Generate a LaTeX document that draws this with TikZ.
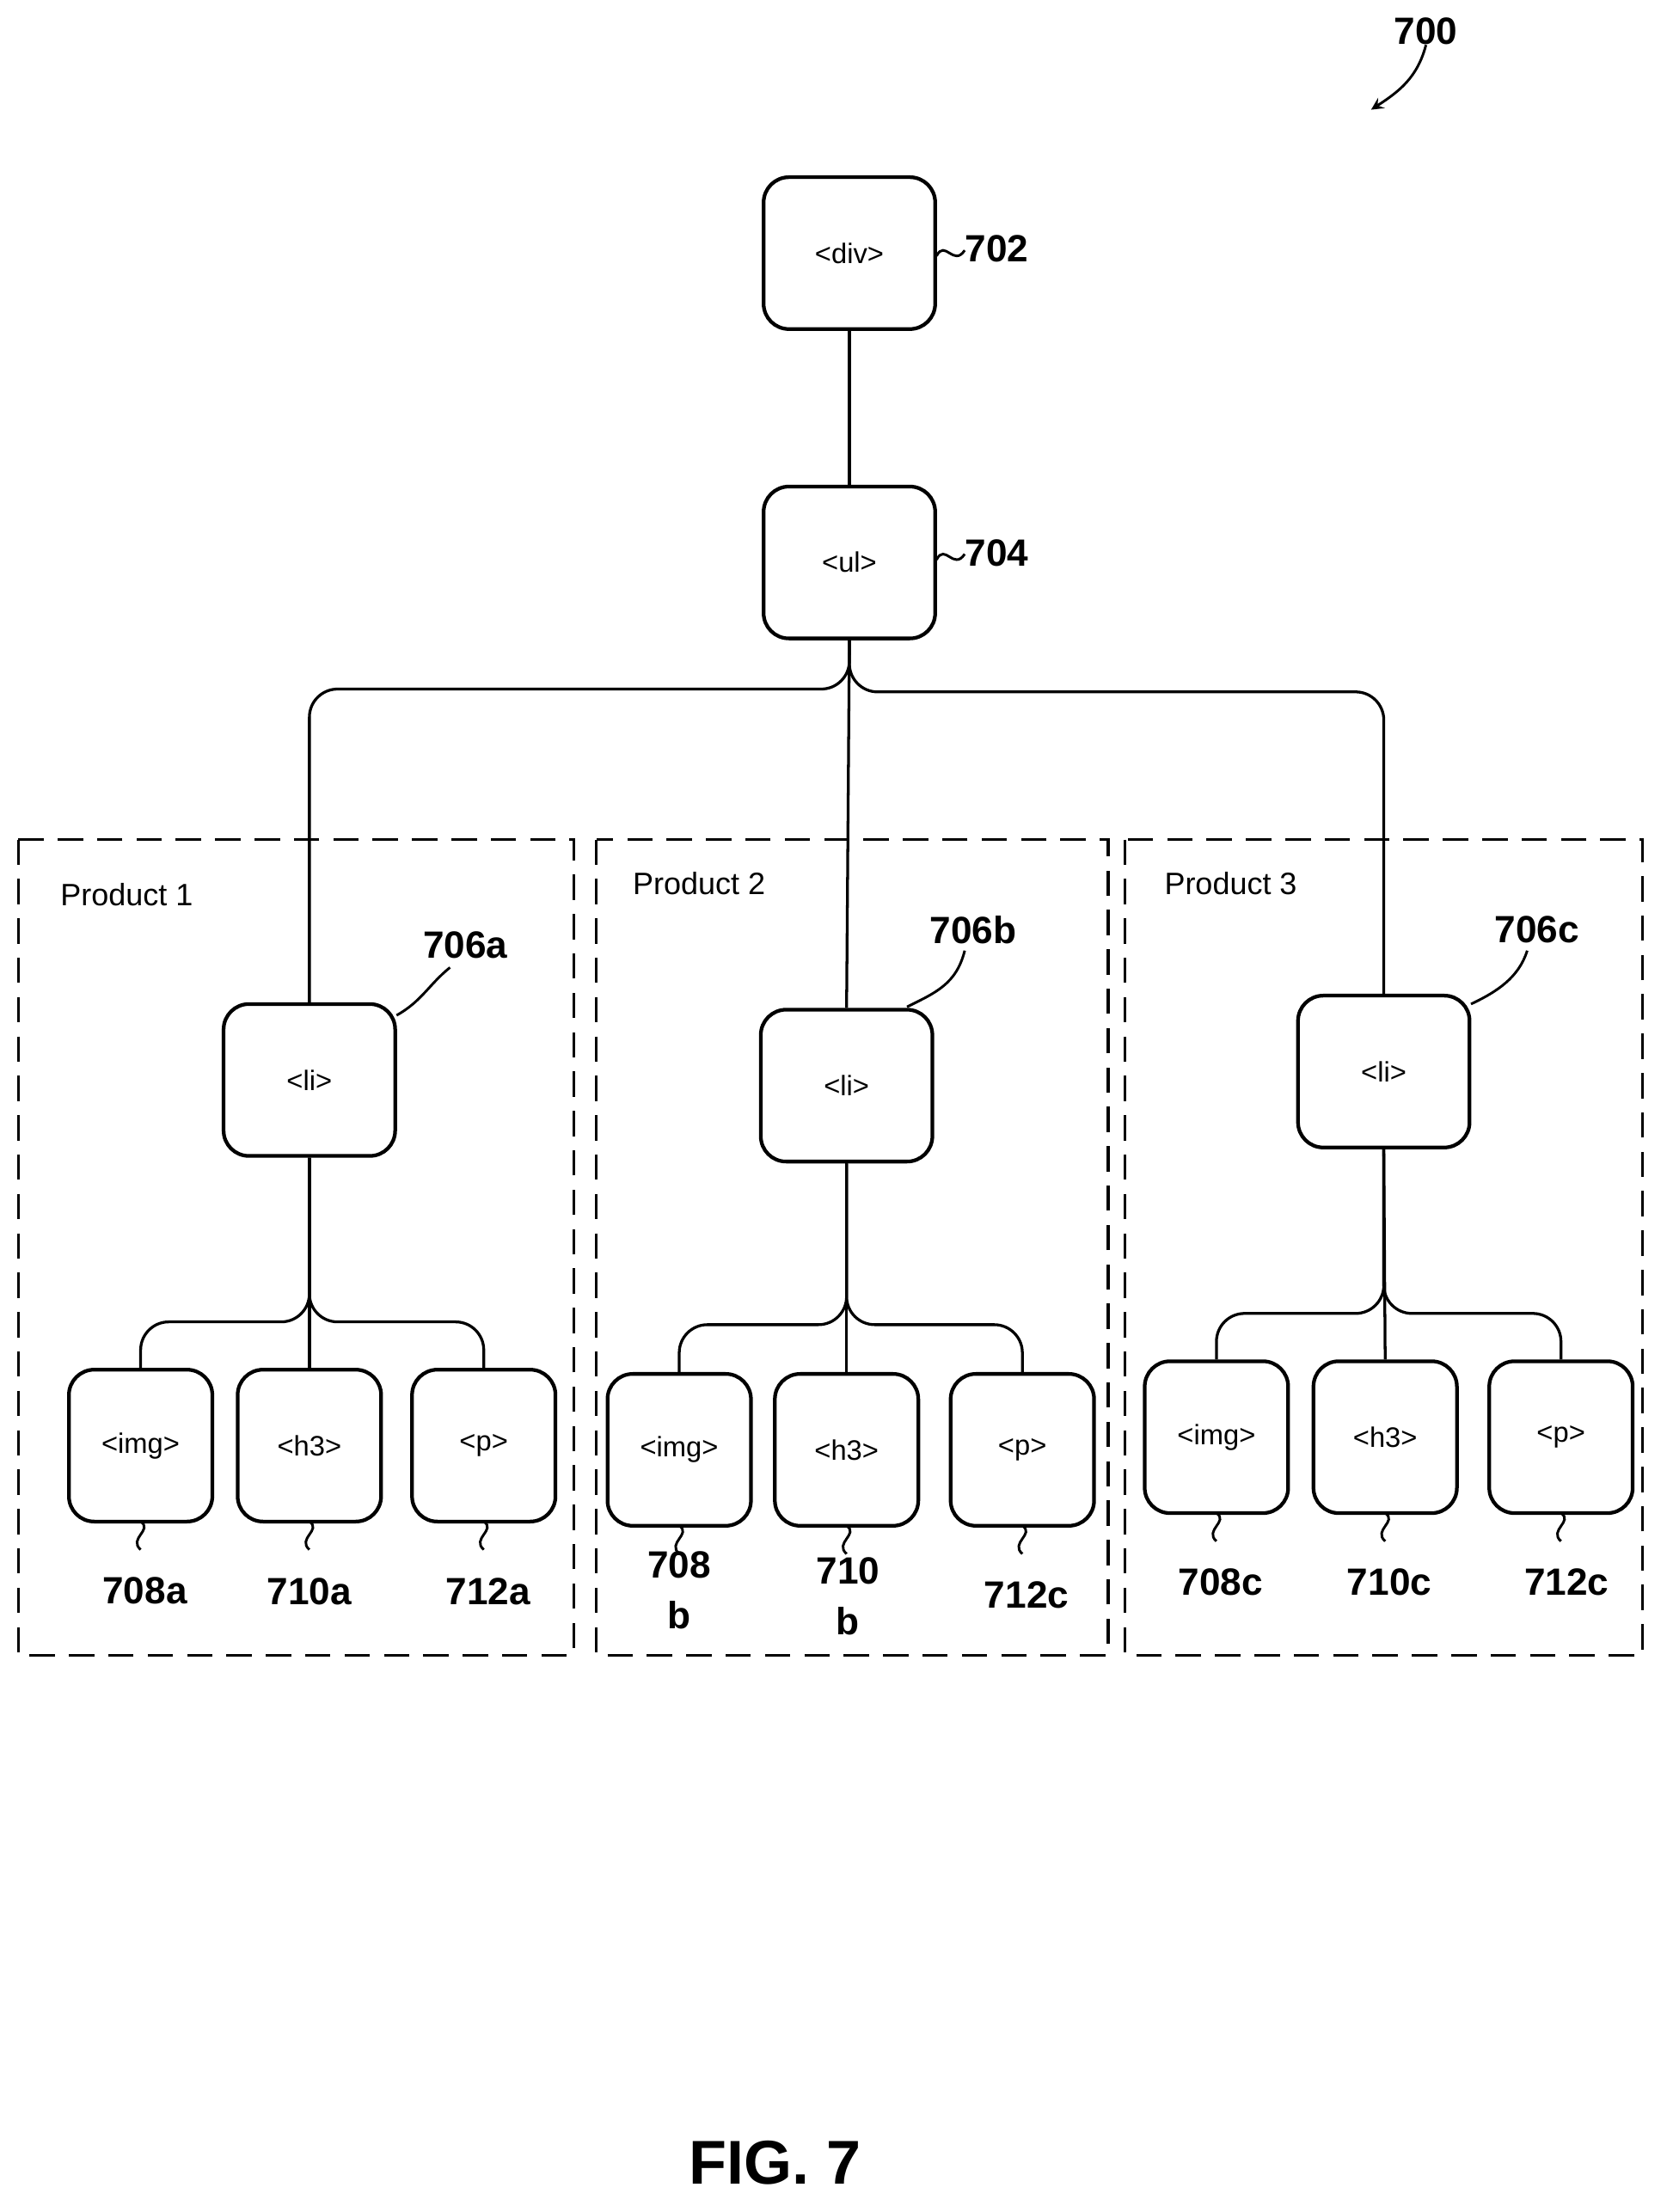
\documentclass[tikz,border=0pt]{standalone}
\usepackage{fontspec}
\setmainfont{Liberation Sans}
\begin{document}
\begin{tikzpicture}[x=0.5pt,y=-0.5pt,
 box/.style={draw,line width=1.3pt,rounded corners=9pt,minimum width=61pt,minimum height=54pt,font=\fontsize{10}{12}\selectfont},
 kid/.style={box,minimum width=51pt},
 grp/.style={draw,line width=1pt,dash pattern=on 9pt off 5pt},
 lab/.style={font=\fontsize{13.5}{14}\selectfont\bfseries,inner sep=0pt},
 ln/.style={line width=1pt},
 sq/.style={line width=0.9pt}]
\useasboundingbox (0,0) rectangle (1185,1573);
% groups
\draw[grp] (13,597) rectangle (408,1177);
\draw[grp] (424,597) rectangle (788,1177);
\draw[grp] (800,597) rectangle (1168,1177);
\node[anchor=west,font=\fontsize{11}{13}\selectfont] (p1) at (36,636) {Product 1};
\node[anchor=west,font=\fontsize{11}{13}\selectfont] (p2) at (443,628) {Product 2};
\node[anchor=west,font=\fontsize{11}{13}\selectfont] (p3) at (821,628) {Product 3};
% nodes
\node[box] (div) at (604,180) {<div>};
\node[box] (ul) at (604,400) {<ul>};
\node[box] (lia) at (220,768) {<li>};
\node[box] (lib) at (602,772) {<li>};
\node[box] (lic) at (984,762) {<li>};
\node[kid] (ia) at (100,1028) {<img>};
\node[kid] (ha) at (220,1028) {<h3>};
\node[kid] (pa) at (344,1028) {<p>};
\node[kid] (ib) at (483,1031) {<img>};
\node[kid] (hb) at (602,1031) {<h3>};
\node[kid] (pb) at (727,1031) {<p>};
\node[kid] (ic) at (865,1022) {<img>};
\node[kid] (hc) at (985,1022) {<h3>};
\node[kid] (pc) at (1110,1022) {<p>};
% connectors
\draw[ln] (div) -- (ul);
\draw[ln,rounded corners=10pt] (ul.south) |- (220,490) -- (lia.north);
\draw[ln,rounded corners=10pt] (ul.south) |- (984,492) -- (lic.north);
\draw[ln] (ul.south) -- (lib.north);
\draw[ln,rounded corners=10pt] (lia.south) |- (100,940) -- (ia.north);
\draw[ln,rounded corners=10pt] (lia.south) |- (344,940) -- (pa.north);
\draw[ln] (lia.south) -- (ha.north);
\draw[ln,rounded corners=10pt] (lib.south) |- (483,942) -- (ib.north);
\draw[ln,rounded corners=10pt] (lib.south) |- (727,942) -- (pb.north);
\draw[ln] (lib.south) -- (hb.north);
\draw[ln,rounded corners=10pt] (lic.south) |- (865,934) -- (ic.north);
\draw[ln,rounded corners=10pt] (lic.south) |- (1110,934) -- (pc.north);
\draw[ln] (lic.south) -- (hc.north);
% labels
\node[lab] (l700) at (1014,22) {700};
\draw[sq,-stealth] (l700.south) .. controls (1008,55) and (995,65) .. (975,78);
\node[lab,anchor=west] (l702) at (686,177) {702};
\draw[sq] (666,182) .. controls (672,170) and (678,190) .. (686,178);
\node[lab,anchor=west] (l704) at (686,393) {704};
\draw[sq] (666,398) .. controls (672,386) and (678,406) .. (686,394);
\node[lab] (l706a) at (331,672) {706a};
\draw[sq] (282,722) .. controls (300,712) and (305,700) .. (320,688);
\node[lab] (l706b) at (692,661) {706b};
\draw[sq] (645,716) .. controls (665,706) and (680,700) .. (686,676);
\node[lab] (l706c) at (1093,661) {706c};
\draw[sq] (1046,714) .. controls (1065,705) and (1080,695) .. (1086,676);
\foreach \x/\n in {100/a,220/b,344/c,483/d,602/e,727/f,865/g,985/h,1110/i}{}
\def\sqg#1#2{\draw[sq] (#1,#2) .. controls (#1+9,#2+6) and (#1-9,#2+12) .. (#1,#2+20);}
\sqg{100}{1082}\sqg{220}{1082}\sqg{344}{1082}
\sqg{483}{1085}\sqg{602}{1085}\sqg{727}{1085}
\sqg{865}{1076}\sqg{985}{1076}\sqg{1110}{1076}
\node[lab] (l708a) at (103,1131) {708a};
\node[lab] (l710a) at (220,1132) {710a};
\node[lab] (l712a) at (347,1132) {712a};
\node[lab,align=center] (l708b) at (483,1131) {708\\[4pt]b};
\node[lab,align=center] (l710b) at (603,1135) {710\\[4pt]b};
\node[lab] (l712b) at (730,1134) {712c};
\node[lab] (l708c) at (868,1125) {708c};
\node[lab] (l710c) at (988,1125) {710c};
\node[lab] (l712c) at (1114,1125) {712c};
\node[font=\fontsize{22}{24}\selectfont\bfseries] (fig) at (551,1538) {FIG. 7};
\end{tikzpicture}
\end{document}
